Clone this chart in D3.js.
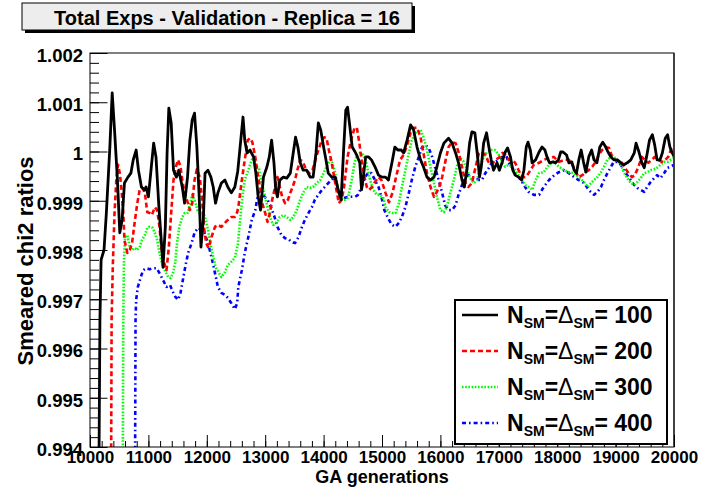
<!DOCTYPE html>
<html>
<head>
<meta charset="utf-8">
<script src="https://cdn.jsdelivr.net/npm/d3@7"></script>
<style>
  body { margin: 0; background: #fff; }
  svg { display: block; font-family: "Liberation Sans", Arial, Helvetica, sans-serif; }
</style>
</head>
<body>
<script>
// ---- data: [GA generation, smeared chi2 ratio] ----
const n100 = [[10150,0.9930],[10170,0.99658],[10190,0.99780],[10240,0.99800],[10280,0.99875],[10340,1.00009],[10380,1.00119],[10420,1.00044],[10470,0.99942],[10510,0.99835],[10550,0.99861],[10590,0.99936],[10650,0.99948],[10700,0.99956],[10740,0.99983],[10790,1.00003],[10830,0.99962],[10880,0.99928],[10930,0.99922],[10960,0.99928],[11000,0.99908],[11050,0.99969],[11090,1.00017],[11130,0.99989],[11180,0.99887],[11220,0.99820],[11250,0.99765],[11290,0.99847],[11320,0.99997],[11350,1.00088],[11390,1.00058],[11430,0.99962],[11480,0.99948],[11520,0.99962],[11580,0.99928],[11620,0.99895],[11670,0.99948],[11710,1.00023],[11750,1.00064],[11790,1.00078],[11830,1.00009],[11870,0.99908],[11900,0.99806],[11940,0.99861],[11970,0.99956],[12020,0.99962],[12070,0.99948],[12110,0.99928],[12150,0.99895],[12190,0.99916],[12250,0.99936],[12310,0.99942],[12360,0.99928],[12420,0.99916],[12480,0.99928],[12530,0.99960],[12570,1.00009],[12620,1.00070],[12650,1.00023],[12690,0.99997],[12740,1.00003],[12800,0.99989],[12840,0.99956],[12880,0.99908],[12920,0.99881],[12970,0.99948],[13030,0.99969],[13070,0.99989],[13110,1.00023],[13150,0.99977],[13180,0.99922],[13210,0.99908],[13250,0.99942],[13310,0.99948],[13370,0.99946],[13430,0.99956],[13480,0.99997],[13520,1.00029],[13560,1.00009],[13600,0.99977],[13650,0.99962],[13710,0.99962],[13770,0.99948],[13820,0.99948],[13870,0.99997],[13910,1.00058],[13950,1.00044],[14000,1.00009],[14040,0.99983],[14080,0.99956],[14140,0.99948],[14200,0.99948],[14250,0.99922],[14300,0.99902],[14340,0.99997],[14380,1.00084],[14410,1.00090],[14450,1.00050],[14490,1.00009],[14540,0.99999],[14580,0.99989],[14620,0.99977],[14650,0.99922],[14680,0.99948],[14720,0.99989],[14770,0.99989],[14820,0.99983],[14880,0.99969],[14940,0.99952],[15000,0.99948],[15060,0.99948],[15110,0.99942],[15170,0.99977],[15220,1.00009],[15270,1.00003],[15330,1.00003],[15370,0.99997],[15430,1.00023],[15490,1.00054],[15540,1.00044],[15600,1.00009],[15660,0.99983],[15710,0.99969],[15770,0.99948],[15830,0.99942],[15890,0.99948],[15940,0.99969],[16000,0.99997],[16060,1.00017],[16140,1.00027],[16200,1.00017],[16260,0.99997],[16310,0.99977],[16370,0.99942],[16410,0.99928],[16460,0.99969],[16500,1.00017],[16540,1.00040],[16590,1.00038],[16630,0.99997],[16670,0.99948],[16700,0.99969],[16740,1.00017],[16790,1.00038],[16830,1.00009],[16870,0.99983],[16910,0.99962],[16970,0.99977],[17010,0.99962],[17060,0.99979],[17100,0.99997],[17150,1.00007],[17200,0.99989],[17240,0.99962],[17280,0.99952],[17340,0.99948],[17390,0.99942],[17430,0.99962],[17470,1.00009],[17500,1.00019],[17540,1.00003],[17570,0.99977],[17630,0.99983],[17690,0.99999],[17740,1.00009],[17790,1.00003],[17830,0.99987],[17870,0.99977],[17930,0.99979],[17970,0.99977],[18020,0.99983],[18060,0.99999],[18100,0.99999],[18160,0.99993],[18200,0.99977],[18250,0.99979],[18290,0.99962],[18330,0.99956],[18370,0.99983],[18410,1.00003],[18450,0.99979],[18490,0.99958],[18540,0.99989],[18590,1.00003],[18630,0.99983],[18680,0.99977],[18730,1.00009],[18780,1.00019],[18830,1.00009],[18870,0.99999],[18920,0.99989],[18970,0.99983],[19030,0.99983],[19090,0.99977],[19140,0.99973],[19200,0.99977],[19260,0.99983],[19320,0.99997],[19350,1.00017],[19400,0.99999],[19450,0.99977],[19490,0.99967],[19530,0.99989],[19580,1.00023],[19630,1.00034],[19670,1.00013],[19710,0.99983],[19760,0.99983],[19800,0.99997],[19850,1.00027],[19890,1.00034],[19930,1.00009],[19970,0.99997],[20000,0.99990]];

const n200 = [[10360,0.9930],[10370,0.99658],[10390,0.99765],[10420,0.99875],[10450,0.99942],[10480,0.99973],[10510,0.99956],[10540,0.99922],[10570,0.99875],[10590,0.99820],[10640,0.99794],[10680,0.99800],[10720,0.99814],[10770,0.99861],[10810,0.99895],[10850,0.99922],[10900,0.99926],[10940,0.99916],[10980,0.99877],[11020,0.99875],[11060,0.99871],[11110,0.99887],[11150,0.99881],[11190,0.99847],[11220,0.99806],[11270,0.99774],[11310,0.99759],[11350,0.99806],[11390,0.99875],[11430,0.99942],[11470,0.99969],[11510,0.99983],[11550,0.99969],[11580,0.99942],[11620,0.99916],[11660,0.99902],[11710,0.99881],[11750,0.99895],[11790,0.99942],[11830,0.99964],[11880,0.99948],[11920,0.99902],[11950,0.99847],[11990,0.99814],[12030,0.99804],[12080,0.99826],[12140,0.99847],[12190,0.99851],[12250,0.99847],[12310,0.99855],[12360,0.99861],[12420,0.99867],[12480,0.99867],[12520,0.99877],[12540,0.99887],[12600,0.99942],[12650,0.99983],[12700,1.00023],[12740,1.00027],[12780,1.00019],[12830,0.99989],[12880,0.99948],[12920,0.99922],[12950,0.99895],[13000,0.99875],[13040,0.99857],[13080,0.99875],[13120,0.99902],[13170,0.99928],[13210,0.99948],[13250,0.99928],[13290,0.99908],[13340,0.99895],[13390,0.99902],[13430,0.99916],[13470,0.99928],[13510,0.99942],[13550,0.99962],[13600,0.99983],[13650,0.99979],[13700,0.99962],[13750,0.99956],[13810,0.99962],[13860,0.99983],[13910,1.00003],[13970,1.00023],[14010,1.00029],[14050,1.00027],[14090,1.00003],[14140,0.99977],[14180,0.99948],[14220,0.99922],[14260,0.99895],[14310,0.99902],[14350,0.99928],[14410,0.99989],[14470,1.00023],[14530,1.00048],[14570,1.00048],[14610,1.00019],[14650,0.99983],[14700,0.99948],[14740,0.99928],[14780,0.99922],[14830,0.99928],[14880,0.99938],[14940,0.99948],[14990,0.99942],[15060,0.99916],[15120,0.99897],[15180,0.99916],[15240,0.99948],[15310,0.99983],[15370,0.99993],[15430,1.00013],[15490,1.00038],[15540,1.00048],[15600,1.00048],[15660,1.00029],[15710,0.99997],[15770,0.99956],[15830,0.99928],[15890,0.99908],[15930,0.99916],[15980,0.99928],[16030,0.99948],[16090,0.99983],[16140,1.00009],[16200,1.00019],[16260,1.00017],[16310,0.99999],[16370,0.99969],[16430,0.99936],[16480,0.99928],[16540,0.99936],[16600,0.99967],[16660,0.99997],[16710,0.99999],[16770,0.99993],[16830,0.99977],[16880,0.99973],[16940,0.99983],[17000,0.99987],[17060,0.99997],[17110,0.99993],[17170,0.99983],[17230,0.99983],[17280,0.99977],[17340,0.99962],[17400,0.99948],[17460,0.99948],[17510,0.99956],[17600,0.99973],[17690,0.99977],[17770,0.99983],[17860,0.99987],[17940,0.99989],[18030,0.99979],[18120,0.99983],[18200,0.99983],[18260,0.99973],[18320,0.99958],[18370,0.99948],[18430,0.99952],[18490,0.99958],[18540,0.99962],[18600,0.99969],[18660,0.99979],[18710,0.99993],[18770,1.00003],[18830,1.00009],[18890,1.00007],[18930,0.99993],[18990,0.99983],[19050,0.99979],[19110,0.99977],[19160,0.99967],[19220,0.99956],[19280,0.99948],[19330,0.99952],[19390,0.99969],[19450,0.99989],[19500,0.99983],[19560,0.99977],[19620,0.99983],[19670,0.99989],[19730,0.99983],[19790,0.99979],[19850,0.99983],[19900,0.99989],[19960,1.00007],[20000,1.00009]];

const n300 = [[10560,0.9930],[10570,0.99658],[10580,0.99774],[10600,0.99826],[10640,0.99830],[10680,0.99806],[10720,0.99800],[10770,0.99804],[10810,0.99800],[10850,0.99806],[10890,0.99820],[10940,0.99830],[10980,0.99845],[11020,0.99847],[11070,0.99845],[11110,0.99835],[11150,0.99820],[11190,0.99794],[11230,0.99774],[11280,0.99759],[11340,0.99745],[11380,0.99743],[11420,0.99753],[11460,0.99774],[11490,0.99814],[11530,0.99847],[11580,0.99867],[11620,0.99875],[11670,0.99875],[11710,0.99891],[11750,0.99912],[11790,0.99902],[11840,0.99881],[11880,0.99875],[11940,0.99875],[11970,0.99867],[12020,0.99841],[12060,0.99814],[12110,0.99786],[12150,0.99765],[12200,0.99755],[12250,0.99745],[12310,0.99755],[12360,0.99770],[12420,0.99776],[12480,0.99784],[12530,0.99810],[12570,0.99861],[12610,0.99908],[12650,0.99942],[12710,0.99962],[12770,0.99983],[12810,0.99987],[12850,0.99969],[12890,0.99967],[12930,0.99942],[12970,0.99922],[13010,0.99902],[13050,0.99881],[13100,0.99861],[13140,0.99851],[13200,0.99857],[13250,0.99867],[13310,0.99871],[13370,0.99867],[13430,0.99861],[13480,0.99867],[13540,0.99881],[13600,0.99902],[13650,0.99916],[13710,0.99928],[13770,0.99926],[13820,0.99928],[13880,0.99936],[13940,0.99942],[14000,0.99956],[14050,0.99969],[14110,0.99983],[14150,0.99977],[14200,0.99956],[14240,0.99928],[14280,0.99908],[14320,0.99902],[14370,0.99902],[14420,0.99906],[14480,0.99942],[14530,0.99977],[14570,0.99993],[14620,0.99997],[14680,0.99993],[14730,0.99977],[14770,0.99956],[14810,0.99936],[14850,0.99922],[14910,0.99912],[14970,0.99912],[15020,0.99906],[15060,0.99887],[15120,0.99877],[15170,0.99875],[15230,0.99875],[15290,0.99895],[15340,0.99928],[15400,0.99962],[15460,0.99997],[15510,1.00023],[15570,1.00038],[15660,1.00044],[15710,1.00029],[15770,1.00003],[15830,0.99969],[15890,0.99936],[15940,0.99908],[16000,0.99881],[16060,0.99877],[16110,0.99887],[16170,0.99916],[16230,0.99942],[16280,0.99969],[16340,0.99987],[16400,0.99979],[16460,0.99962],[16510,0.99946],[16570,0.99936],[16630,0.99942],[16680,0.99969],[16740,0.99989],[16800,0.99999],[16870,1.00003],[16940,1.00003],[17000,0.99993],[17060,0.99977],[17110,0.99969],[17170,0.99973],[17230,0.99969],[17280,0.99962],[17340,0.99952],[17400,0.99942],[17450,0.99932],[17540,0.99926],[17570,0.99922],[17630,0.99942],[17690,0.99956],[17770,0.99958],[17860,0.99973],[17940,0.99979],[18030,0.99969],[18120,0.99962],[18200,0.99958],[18290,0.99956],[18370,0.99948],[18460,0.99938],[18520,0.99928],[18580,0.99936],[18630,0.99942],[18690,0.99948],[18750,0.99958],[18800,0.99969],[18860,0.99983],[18920,0.99989],[18970,0.99989],[19030,0.99983],[19090,0.99973],[19140,0.99958],[19200,0.99946],[19260,0.99936],[19320,0.99932],[19370,0.99938],[19430,0.99946],[19490,0.99956],[19540,0.99958],[19600,0.99962],[19660,0.99964],[19710,0.99967],[19770,0.99973],[19830,0.99979],[19890,0.99979],[19940,0.99983],[20000,0.99987]];

const n400 = [[10770,0.9930],[10780,0.99658],[10790,0.99699],[10820,0.99725],[10870,0.99745],[10910,0.99759],[10960,0.99763],[11020,0.99761],[11080,0.99763],[11140,0.99763],[11190,0.99753],[11250,0.99739],[11310,0.99725],[11370,0.99729],[11420,0.99715],[11460,0.99705],[11510,0.99699],[11550,0.99713],[11590,0.99739],[11630,0.99765],[11680,0.99794],[11740,0.99814],[11790,0.99835],[11850,0.99845],[11910,0.99841],[11960,0.99835],[12020,0.99814],[12080,0.99786],[12140,0.99753],[12190,0.99725],[12250,0.99713],[12310,0.99709],[12360,0.99703],[12420,0.99692],[12480,0.99680],[12520,0.99692],[12540,0.99725],[12600,0.99759],[12650,0.99794],[12710,0.99826],[12770,0.99861],[12830,0.99881],[12880,0.99916],[12930,0.99922],[12990,0.99908],[13040,0.99902],[13100,0.99887],[13160,0.99867],[13210,0.99847],[13280,0.99830],[13340,0.99824],[13400,0.99822],[13450,0.99816],[13510,0.99814],[13570,0.99826],[13630,0.99847],[13680,0.99861],[13740,0.99875],[13800,0.99887],[13850,0.99902],[13910,0.99912],[13970,0.99922],[14020,0.99928],[14080,0.99936],[14140,0.99942],[14180,0.99948],[14220,0.99936],[14260,0.99916],[14310,0.99906],[14370,0.99906],[14420,0.99908],[14480,0.99908],[14540,0.99908],[14590,0.99912],[14650,0.99928],[14710,0.99948],[14770,0.99958],[14820,0.99956],[14880,0.99942],[14940,0.99928],[14990,0.99908],[15040,0.99881],[15120,0.99861],[15170,0.99851],[15230,0.99847],[15290,0.99855],[15340,0.99867],[15400,0.99887],[15460,0.99916],[15510,0.99942],[15570,0.99969],[15630,0.99989],[15680,1.00007],[15740,1.00013],[15800,1.00007],[15860,0.99989],[15910,0.99967],[15970,0.99942],[16030,0.99916],[16080,0.99891],[16140,0.99881],[16200,0.99881],[16260,0.99891],[16310,0.99912],[16370,0.99932],[16430,0.99948],[16480,0.99952],[16540,0.99948],[16600,0.99946],[16660,0.99942],[16710,0.99942],[16770,0.99956],[16830,0.99967],[16880,0.99977],[16940,0.99979],[17000,0.99983],[17060,0.99989],[17110,0.99997],[17170,0.99977],[17230,0.99967],[17280,0.99958],[17340,0.99948],[17400,0.99938],[17450,0.99928],[17510,0.99918],[17600,0.99912],[17690,0.99912],[17770,0.99928],[17860,0.99942],[17950,0.99952],[18030,0.99958],[18120,0.99962],[18200,0.99956],[18290,0.99948],[18370,0.99942],[18460,0.99936],[18540,0.99922],[18630,0.99912],[18690,0.99918],[18750,0.99928],[18800,0.99942],[18860,0.99956],[18920,0.99969],[18970,0.99979],[19030,0.99979],[19090,0.99973],[19140,0.99962],[19200,0.99952],[19260,0.99942],[19320,0.99932],[19370,0.99926],[19430,0.99922],[19490,0.99918],[19540,0.99928],[19600,0.99938],[19660,0.99946],[19710,0.99952],[19770,0.99946],[19830,0.99956],[19890,0.99967],[19940,0.99969],[20000,0.99973]];

const xTicks = [10000, 11000, 12000, 13000, 14000, 15000, 16000, 17000, 18000, 19000, 20000];
const yTicks = [0.994, 0.995, 0.996, 0.997, 0.998, 0.999, 1, 1.001, 1.002];
const yTickLabels = ["0.994", "0.995", "0.996", "0.997", "0.998", "0.999", "1", "1.001", "1.002"];
const legendValues = ["100", "200", "300", "400"];

const titleText = "Total Exps - Validation - Replica = 16";
const xTitle = "GA generations";
const yTitle = "Smeared chi2 ratios";

// ---- drawing ----
const W = 706, H = 489;
const pLeft = 90, pRight = 674, pTop = 53, pBottom = 447;
const FONT = "'Liberation Sans', Arial, Helvetica, sans-serif";

const svg = d3.select("body").append("svg").attr("width", W).attr("height", H);

const x = d3.scaleLinear().domain([10000, 20000]).range([pLeft, pRight]);
const y = d3.scaleLinear().domain([0.994, 1.002]).range([pBottom, pTop]);

svg.append("defs").append("clipPath").attr("id", "plotclip")
  .append("rect").attr("x", pLeft).attr("y", pTop).attr("width", pRight - pLeft).attr("height", pBottom - pTop);

// series
const series = [
  { data: n100, color: "#000000", dash: null },
  { data: n200, color: "#ff0000", dash: "5,3" },
  { data: n300, color: "#00ff00", dash: "1.6,1.6" },
  { data: n400, color: "#0000ff", dash: "4,3,1.6,3" }
];

const line = d3.line().x(d => x(d[0])).y(d => y(d[1]));
const lines = svg.append("g").attr("clip-path", "url(#plotclip)");
// back to front, black on top
series.slice().reverse().forEach(s => {
  lines.append("path").datum(s.data)
    .attr("d", line)
    .attr("fill", "none")
    .attr("stroke", s.color)
    .attr("stroke-width", s.dash ? 2.6 : 2.8)
    .attr("stroke-linejoin", "round")
    .attr("stroke-dasharray", s.dash);
});

// frame
svg.append("rect").attr("x", pLeft).attr("y", pTop).attr("width", pRight - pLeft).attr("height", pBottom - pTop)
  .attr("fill", "none").attr("stroke", "#000").attr("stroke-width", 1);
svg.append("line").attr("x1", pRight).attr("x2", pRight).attr("y1", pTop).attr("y2", pBottom)
  .attr("stroke", "#333").attr("stroke-width", 1.6);

// x axis (ticks inward)
const gx = svg.append("g").attr("transform", `translate(0,${pBottom})`);
gx.call(d3.axisBottom(x).tickValues(x.ticks(50)).tickSize(-6).tickFormat(""));
gx.select(".domain").remove();
const gxMaj = svg.append("g").attr("transform", `translate(0,${pBottom})`);
gxMaj.call(d3.axisBottom(x).tickValues(xTicks).tickSize(-12).tickPadding(4).tickFormat(d3.format("d")));
gxMaj.select(".domain").remove();
gxMaj.selectAll("text").attr("font-size", 17).attr("font-weight", "bold")
  .attr("font-family", FONT).attr("fill", "#000");

// y axis (ticks inward)
const gy = svg.append("g").attr("transform", `translate(${pLeft},0)`);
gy.call(d3.axisLeft(y).tickValues(y.ticks(40)).tickSize(-9).tickFormat(""));
gy.select(".domain").remove();
const gyMaj = svg.append("g").attr("transform", `translate(${pLeft},0)`);
gyMaj.call(d3.axisLeft(y).tickValues(yTicks).tickSize(-17.5).tickPadding(7)
  .tickFormat((d, i) => yTickLabels[i]));
gyMaj.select(".domain").remove();
gyMaj.selectAll("text").attr("font-size", 18.5).attr("font-weight", "bold").attr("dy", "0.45em")
  .attr("font-family", FONT).attr("fill", "#000");
svg.selectAll(".tick line").attr("stroke", "#000").attr("stroke-width", 1);

// axis titles
svg.append("text").attr("x", (pLeft + pRight) / 2).attr("y", 483)
  .attr("text-anchor", "middle").attr("font-size", 18).attr("font-weight", "bold").text(xTitle);
svg.append("text").attr("transform", "translate(33,261) rotate(-90)")
  .attr("text-anchor", "middle").attr("font-size", 22).attr("font-weight", "bold").text(yTitle);

// title box with shadow
svg.append("rect").attr("x", 25).attr("y", 6).attr("width", 390).attr("height", 27).attr("fill", "#000");
svg.append("rect").attr("x", 22).attr("y", 3).attr("width", 390).attr("height", 27)
  .attr("fill", "#ededed").attr("stroke", "#000").attr("stroke-width", 1);
svg.append("text").attr("x", 227).attr("y", 25).attr("text-anchor", "middle")
  .attr("font-size", 20).attr("font-weight", "bold").text(titleText);

// legend
const lg = svg.append("g");
lg.append("rect").attr("x", 455).attr("y", 300).attr("width", 212).attr("height", 144)
  .attr("fill", "#fff").attr("stroke", "#000").attr("stroke-width", 2);
series.forEach((s, i) => {
  const cy = 315 + i * 36;
  lg.append("line").attr("x1", 462).attr("x2", 498).attr("y1", cy).attr("y2", cy)
    .attr("stroke", s.color).attr("stroke-width", 2.6).attr("stroke-dasharray", s.dash);
  const t = lg.append("text").attr("x", 507).attr("y", cy + 8).attr("font-size", 23).attr("font-weight", "bold");
  t.append("tspan").text("N");
  t.append("tspan").attr("font-size", 14).attr("dy", 5).text("SM");
  t.append("tspan").attr("dy", -5).text("=");
  t.append("tspan").attr("font-weight", "normal").text("\u0394");
  t.append("tspan").attr("font-size", 14).attr("dy", 5).text("SM");
  t.append("tspan").attr("dy", -5).text("= " + legendValues[i]);
});
</script>
</body>
</html>
